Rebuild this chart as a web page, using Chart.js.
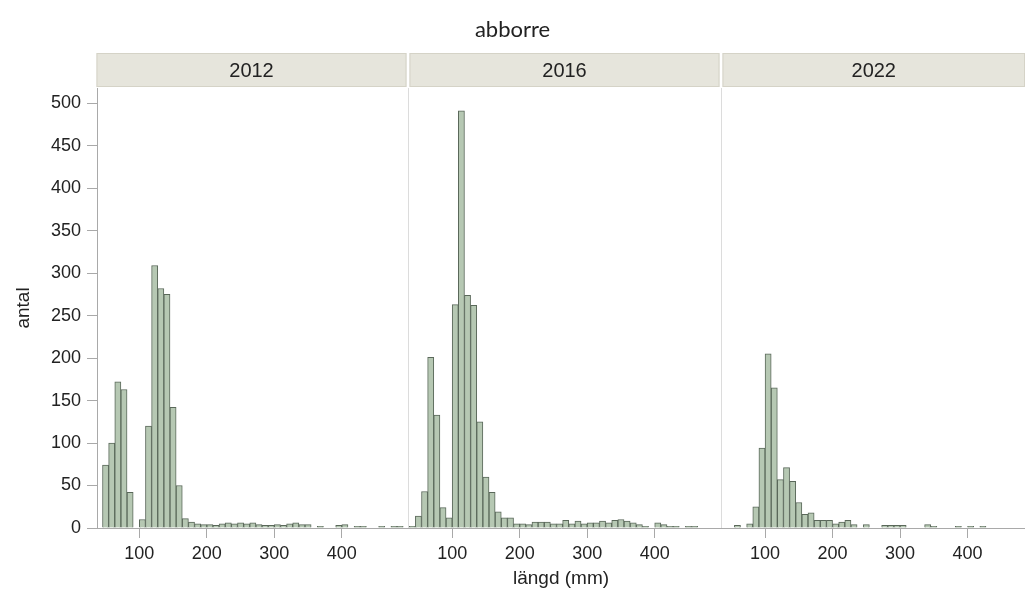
<!DOCTYPE html>
<html>
<head>
<meta charset="utf-8">
<script src="https://cdn.jsdelivr.net/npm/chart.js@4"></script>
<style>
html,body{margin:0;padding:0;background:#fff;}
#wrap{width:1025px;height:593px;position:relative;}
</style>
</head>
<body>
<div id="wrap"><canvas id="c" width="1025" height="593"></canvas></div>
<script>
// ---- data ----
const chartTitle = 'abborre';
const xAxisTitle = 'längd (mm)';
const yAxisTitle = 'antal';
const panelYears = ['2012', '2016', '2022'];
const binCenters = [40.91, 50.00, 59.09, 68.18, 77.27, 86.36, 95.45, 104.55, 113.64, 122.73,
  131.82, 140.91, 150.00, 159.09, 168.18, 177.27, 186.36, 195.45, 204.55, 213.64,
  222.73, 231.82, 240.91, 250.00, 259.09, 268.18, 277.27, 286.36, 295.45, 304.55,
  313.64, 322.73, 331.82, 340.91, 350.00, 359.09, 368.18, 377.27, 386.36, 395.45,
  404.55, 413.64, 422.73, 431.82, 440.91, 450.00, 459.09, 468.18, 477.27, 486.36];
const counts2012 = [0,74,100,172,163,42,0,10,120,309,282,275,142,50,11,7,5,4,4,3,5,6,5,6,5,6,4,3,3,4,3,5,6,4,4,0,2,0,0,3,4,0,2,2,0,0,2,0,2,2];
const counts2016 = [2,14,43,201,133,24,12,263,491,274,262,125,60,42,19,12,12,5,5,4,7,7,7,5,5,9,5,8,5,6,6,8,6,9,10,8,6,4,2,0,6,4,2,2,0,2,2,0,0,0];
const counts2022 = [0,0,3,0,5,25,94,205,165,57,71,55,30,16,18,9,9,9,5,7,9,4,0,4,0,0,3,3,3,3,0,0,0,4,2,0,0,0,2,0,2,0,2,0,0,0,0,0,0,0];
const xTickValues = [100, 200, 300, 400];
const yTickValues = [0, 50, 100, 150, 200, 250, 300, 350, 400, 450, 500];

// ---- layout constants ----
const PANEL_PITCH = 463.5;
const X_MIN = 37.3;
const X_MAX = 1412.1;
const PANEL_SEP = 34.8;
const Y_MAX = 518;
const AXIS_COLOR = '#a9a9a9';
const TEXT_COLOR = '#222222';
const FONT = "'Liberation Sans', Arial, Helvetica, sans-serif";

const allCounts = [counts2012, counts2016, counts2022];
const datasets = allCounts.map((counts, p) => ({
  label: panelYears[p],
  data: binCenters.map((c, i) => counts[i] > 0 ? {x: c + p * PANEL_PITCH, y: counts[i]} : null).filter(Boolean),
  backgroundColor: '#b6c8b3',
  borderColor: '#5a685a',
  borderWidth: 1,
  borderSkipped: 'start',
  grouped: false,
  barPercentage: 1,
  categoryPercentage: 1
}));

const facetPlugin = {
  id: 'facets',
  afterDraw(chart) {
    const {ctx, chartArea} = chart;
    const xs = chart.scales.x;
    ctx.save();
    const bounds = [chartArea.left];
    for (let p = 1; p < panelYears.length; p++) {
      bounds.push(Math.round(xs.getPixelForValue(PANEL_SEP + p * PANEL_PITCH)) + 0.5);
    }
    bounds.push(chartArea.right + 2);
    ctx.strokeStyle = '#dcdcdc';
    ctx.lineWidth = 1;
    for (let p = 1; p < panelYears.length; p++) {
      ctx.beginPath();
      ctx.moveTo(bounds[p], chartArea.top);
      ctx.lineTo(bounds[p], chartArea.bottom);
      ctx.stroke();
    }
    const stripTop = 53, stripBottom = 87;
    for (let p = 0; p < panelYears.length; p++) {
      const l = bounds[p] + (p === 0 ? -0.5 : 1);
      const r = bounds[p + 1] - 2;
      ctx.fillStyle = '#e6e5dc';
      ctx.fillRect(l, stripTop, r - l, stripBottom - stripTop);
      ctx.strokeStyle = '#d5d3c7';
      ctx.strokeRect(l + 0.5, stripTop + 0.5, r - l - 1, stripBottom - stripTop - 1);
      ctx.fillStyle = TEXT_COLOR;
      ctx.font = '20px ' + FONT;
      ctx.textAlign = 'center';
      ctx.textBaseline = 'middle';
      ctx.fillText(panelYears[p], (l + r) / 2, (stripTop + stripBottom) / 2 + 1);
    }
    ctx.fillStyle = TEXT_COLOR;
    ctx.font = "22px Lato, 'Noto Sans', sans-serif";
    ctx.textAlign = 'center';
    ctx.textBaseline = 'middle';
    ctx.fillText(chartTitle, chart.width / 2, 30);
    ctx.restore();
  }
};

new Chart(document.getElementById('c').getContext('2d'), {
  type: 'bar',
  data: {datasets},
  options: {
    responsive: false,
    animation: false,
    layout: {padding: {top: 88, left: 0, right: 0, bottom: 0}},
    plugins: {legend: {display: false}, tooltip: {enabled: false}, title: {display: false}},
    scales: {
      x: {
        type: 'linear',
        min: X_MIN,
        max: X_MAX,
        offset: false,
        afterFit(s) { s.height = 65; },
        afterBuildTicks(s) {
          const t = [];
          for (let p = 0; p < panelYears.length; p++) {
            xTickValues.forEach(v => { const val = v + p * PANEL_PITCH; if (val <= X_MAX) t.push({value: val}); });
          }
          s.ticks = t;
        },
        ticks: {
          autoSkip: false,
          maxRotation: 0,
          padding: 5,
          color: TEXT_COLOR,
          font: {family: FONT, size: 18},
          callback(value) {
            const p = Math.floor((value - X_MIN) / PANEL_PITCH);
            return String(Math.round(value - p * PANEL_PITCH));
          }
        },
        grid: {drawOnChartArea: false, drawTicks: true, tickLength: 10, color: AXIS_COLOR, offset: false},
        border: {color: AXIS_COLOR, width: 1},
        title: {display: true, text: xAxisTitle, color: TEXT_COLOR, font: {family: FONT, size: 19}, padding: {top: 0, bottom: 3}}
      },
      y: {
        min: 0,
        max: Y_MAX,
        afterFit(s) { s.width = 97; },
        afterBuildTicks(s) { s.ticks = yTickValues.map(v => ({value: v})); },
        ticks: {padding: 6, color: TEXT_COLOR, font: {family: FONT, size: 18}},
        grid: {drawOnChartArea: false, drawTicks: true, tickLength: 10, color: AXIS_COLOR},
        border: {color: AXIS_COLOR, width: 1},
        title: {display: true, text: yAxisTitle, color: TEXT_COLOR, font: {family: FONT, size: 19}, padding: {top: 12, bottom: 0}}
      }
    }
  },
  plugins: [facetPlugin]
});
</script>
</body>
</html>
